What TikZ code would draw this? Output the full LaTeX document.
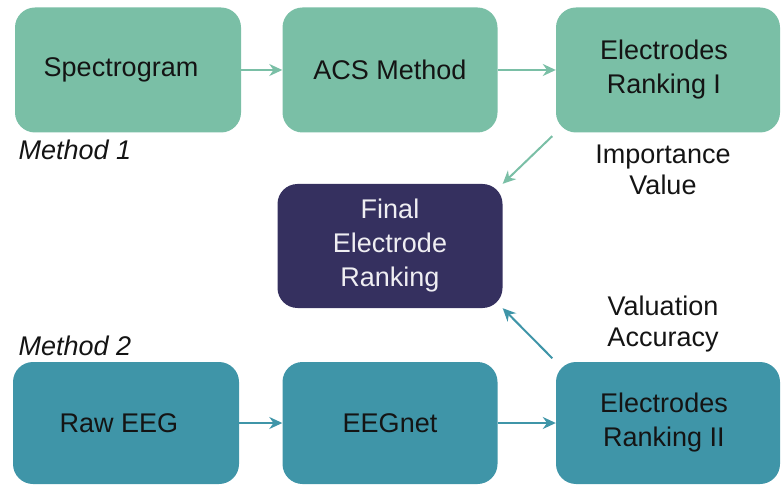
\documentclass[tikz,border=0pt]{standalone}
\usepackage{fontspec}
\setmainfont{Liberation Sans}
\usetikzlibrary{arrows.meta}
\definecolor{topgreen}{HTML}{7ABFA6}
\definecolor{lowteal}{HTML}{3F95A8}
\definecolor{finalpurple}{HTML}{35305F}
\definecolor{inkgray}{HTML}{141414}
\tikzset{
  box/.style={rectangle, rounded corners=20pt, inner sep=0pt, align=center,
    text=inkgray, font=\fontsize{27}{34}\selectfont},
  link/.style={line width=2pt, -{Stealth[length=13pt,width=12pt]}},
  note/.style={align=center, text=inkgray, font=\fontsize{27}{31}\selectfont}
}
\begin{document}
\begin{tikzpicture}[x=1pt,y=-1pt]
  \useasboundingbox (0,0) rectangle (784,486);
  % method 1 row
  \node[box, fill=topgreen, minimum width=226pt, minimum height=125pt] (spec) at (128,70) {Spectrogram\hspace*{14pt}};
  \node[box, fill=topgreen, minimum width=215pt, minimum height=125pt] (acs) at (390,70) {ACS Method};
  \node[box, fill=topgreen, minimum width=224pt, minimum height=125pt] (rank1) at (668,70) {Electrodes\hspace*{8pt}\\Ranking I\hspace*{8pt}};
  % final
  \node[box, fill=finalpurple, text=white!92!finalpurple, minimum width=225pt, minimum height=124pt] (final) at (390,246) {Final\\Electrode\\Ranking};
  % method 2 row
  \node[box, fill=lowteal, minimum width=226pt, minimum height=122pt] (raw) at (126,423) {Raw EEG\hspace*{14pt}};
  \node[box, fill=lowteal, minimum width=215pt, minimum height=122pt] (eegnet) at (390,423) {EEGnet};
  \node[box, fill=lowteal, minimum width=224pt, minimum height=122pt] (rank2) at (668,423) {Electrodes\hspace*{8pt}\\Ranking II\hspace*{8pt}};
  % labels
  \node[note, anchor=west, font=\fontsize{27}{31}\selectfont\itshape] (m1) at (15,150) {Method 1};
  \node[note, anchor=west, font=\fontsize{27}{31}\selectfont\itshape] (m2) at (15,346) {Method 2};
  \node[note] (imp) at (663,170) {Importance\\Value};
  \node[note] (val) at (663,324) {Valuation\\Accuracy};
  % links
  \draw[link, topgreen] (spec) -- (acs);
  \draw[link, topgreen] (acs) -- (rank1);
  \draw[link, topgreen, shorten <=5pt] (rank1.south west) -- (final.north east);
  \draw[link, lowteal] (raw) -- (eegnet);
  \draw[link, lowteal] (eegnet) -- (rank2);
  \draw[link, lowteal, shorten <=5pt] (rank2.north west) -- (final.south east);
\end{tikzpicture}
\end{document}
